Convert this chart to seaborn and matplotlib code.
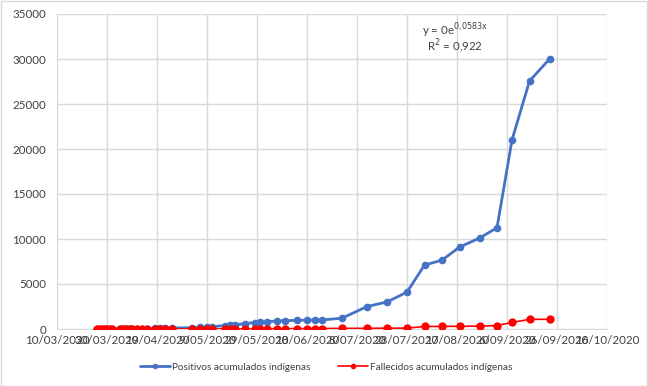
import matplotlib
matplotlib.use("Agg")
import matplotlib.pyplot as plt
import matplotlib.dates as mdates
import seaborn as sns
import pandas as pd
from matplotlib.patches import Rectangle
from matplotlib.lines import Line2D

fechas = ["2020-03-26", "2020-03-27", "2020-03-28", "2020-03-29", "2020-03-30",
          "2020-03-31", "2020-04-01", "2020-04-04", "2020-04-05", "2020-04-06",
          "2020-04-07", "2020-04-08", "2020-04-09", "2020-04-11", "2020-04-13",
          "2020-04-15", "2020-04-18", "2020-04-20", "2020-04-22", "2020-04-25",
          "2020-05-03", "2020-05-06", "2020-05-09", "2020-05-11", "2020-05-16",
          "2020-05-18", "2020-05-20", "2020-05-24", "2020-05-28", "2020-05-30",
          "2020-06-02", "2020-06-06", "2020-06-09", "2020-06-14", "2020-06-18",
          "2020-06-21", "2020-06-24", "2020-07-02", "2020-07-12", "2020-07-20",
          "2020-07-28", "2020-08-04", "2020-08-11", "2020-08-18", "2020-08-26",
          "2020-09-02", "2020-09-08", "2020-09-15", "2020-09-23"]
positivos = [10, 12, 15, 18, 20, 22, 25, 30, 32, 35,
             38, 40, 42, 45, 50, 55, 70, 80, 90, 110,
             150, 170, 220, 250, 380, 420, 450, 600, 720, 760,
             820, 880, 930, 960, 990, 1000, 1010, 1200, 2500, 3000,
             4100, 7100, 7650, 9100, 10100, 11250, 21000, 27550, 30000]
fallecidos = [0, 0, 0, 0, 1, 1, 1, 1, 2, 2,
              2, 2, 2, 3, 3, 3, 4, 4, 5, 5,
              7, 8, 10, 11, 14, 15, 16, 20, 25, 27,
              30, 35, 40, 45, 50, 52, 55, 70, 80, 90,
              100, 280, 290, 300, 320, 380, 730, 1070, 1080]
y_ticks = [0, 5000, 10000, 15000, 20000, 25000, 30000, 35000]
nombre_pos = "Positivos acumulados indígenas"
nombre_fal = "Fallecidos acumulados indígenas"
ecuacion = r"y = 0e$^{\mathrm{0{,}0583x}}$"
r2 = r"R$^{2}$ = 0,922"

df = pd.DataFrame({"fecha": pd.to_datetime(fechas),
                   "positivos": positivos, "fallecidos": fallecidos})

sns.set_style("white")
plt.rcParams["font.family"] = ["Lato", "DejaVu Sans"]

fig = plt.figure(figsize=(6.48, 3.86), dpi=100)
ax = fig.add_axes([57/648, 1-329/386, 550/648, 315/386])

c_blue = "#4472C4"
c_red = "#FF0000"
sns.lineplot(data=df, x="fecha", y="positivos", ax=ax, color=c_blue, lw=2.0,
             marker="o", markersize=5.5, markeredgewidth=0, zorder=3)
sns.lineplot(data=df, x="fecha", y="fallecidos", ax=ax, color=c_red, lw=1.2,
             marker="o", markersize=6, markeredgewidth=0, zorder=4)

start = pd.Timestamp("2020-03-10")
ticks = [start + pd.Timedelta(days=20*i) for i in range(12)]
ax.set_xlim(ticks[0], ticks[-1])
ax.set_xticks(ticks)
ax.xaxis.set_major_formatter(matplotlib.ticker.FuncFormatter(
    lambda v, p: (lambda d: f"{d.day}/{d.month:02d}/{d.year}")(mdates.num2date(v))))
ax.set_ylim(0, 35000)
ax.set_yticks(y_ticks)
ax.grid(True, color="#d9d9d9", lw=1)
ax.set_axisbelow(True)
for s in ["top", "right"]:
    ax.spines[s].set_visible(False)
for s in ["left", "bottom"]:
    ax.spines[s].set_color("#d9d9d9")
ax.tick_params(axis="both", length=0, labelsize=8.3, colors="#404040")
ax.tick_params(axis="x", pad=4)
ax.tick_params(axis="y", pad=8)
ax.set_xlabel("")
ax.set_ylabel("")

ax.text(0.724, 0.946, ecuacion, transform=ax.transAxes, fontsize=8.3,
        color="#404040", ha="center", va="center")
ax.text(0.724, 0.898, r2, transform=ax.transAxes, fontsize=8.3,
        color="#404040", ha="center", va="center")

handles = [Line2D([0], [0], color=c_blue, lw=2.0, marker="o", markersize=4, markeredgewidth=0),
           Line2D([0], [0], color=c_red, lw=1.2, marker="o", markersize=4, markeredgewidth=0)]
fig.legend(handles, [nombre_pos, nombre_fal], loc="center",
           bbox_to_anchor=(0.503, 1-367/386), ncol=2, frameon=False,
           fontsize=7.2, handlelength=3, handletextpad=0.2, columnspacing=2.8,
           labelcolor="#404040")

fig.patches.append(Rectangle((0.5/648, 0.5/386), 1-1.5/648, 1-1.5/386,
                             transform=fig.transFigure, fill=False,
                             edgecolor="#d9d9d9", lw=1))
fig.savefig("out.png", dpi=100)
